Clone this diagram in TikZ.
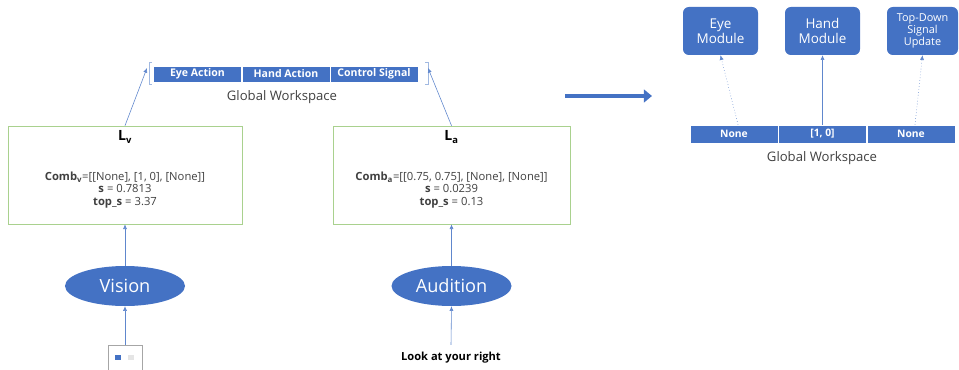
\documentclass[tikz,border=0pt]{standalone}
\usepackage{fontspec}
\setmainfont{Open Sans}
\usetikzlibrary{arrows.meta,shapes.geometric}

\definecolor{wsblue}{HTML}{4472C4}
\definecolor{boxgreen}{HTML}{A9D18E}
\definecolor{txtgrey}{HTML}{404040}

\tikzstyle{cell} = [fill=wsblue, draw=white, line width=0.6pt, text=white, font=\bfseries\fontsize{9}{11}\selectfont, minimum width=2.64cm, inner sep=0pt]
\tikzstyle{panel} = [draw=boxgreen, line width=0.6pt, minimum height=2.94cm, inner sep=0pt]
\tikzstyle{sense} = [ellipse, fill=wsblue, text=white, font=\fontsize{15.5}{18}\selectfont, minimum width=3.6cm, minimum height=1.2cm, inner sep=0pt]
\tikzstyle{module} = [rounded corners=5pt, fill=wsblue, text=white, align=center, minimum height=1.44cm, inner sep=1pt]
\tikzstyle{link} = [draw=wsblue!85, line width=0.5pt, -{Latex[length=4pt,width=3.5pt]}]

\begin{document}
\begin{tikzpicture}[x=0.03cm, y=-0.03cm]
\useasboundingbox (0,0) rectangle (959,370);
%begin workspace-left
\node[cell, minimum height=0.48cm] (ea) at (197.5,74) {Eye Action};
\node[cell, minimum height=0.48cm] (ha) at (286,74) {Hand Action};
\node[cell, minimum height=0.48cm] (cs) at (374,74) {Control Signal};
\draw[wsblue!50, line width=0.5pt] ([xshift=-0.03cm]ea.north west) ++(0.1,-3) -- ++(-3,0) -- ++(0,22) -- ++(3,0);
\draw[wsblue!50, line width=0.5pt] ([xshift=0.21cm]cs.north east) ++(-0.1,-3) -- ++(3,0) -- ++(0,22) -- ++(-3,0);
\coordinate (bl) at (147,68);
\coordinate (br) at (428,68);
\node[font=\fontsize{11.2}{13}\selectfont, text=txtgrey] (gwl) at (282,97) {Global Workspace};
%end workspace-left
%begin panel-v
\node[panel, minimum width=7.02cm] (lv) at (125,175) {};
\node[font=\bfseries\large] (lvt) at (125,137) {L\textsubscript{v}};
\node[font=\fontsize{9.6}{10.8}\selectfont, text=txtgrey, align=center] (lvs) at (125,190)
    {\textbf{Comb\textsubscript{v}}=[[None], [1, 0], [None]]\\ \textbf{s} = 0.7813\\ \textbf{top\_s} = 3.37};
%end panel-v
%begin panel-a
\node[panel, minimum width=7.11cm] (la) at (451.5,175) {};
\node[font=\bfseries\large] (lat) at (451.5,137) {L\textsubscript{a}};
\node[font=\fontsize{9.6}{10.8}\selectfont, text=txtgrey, align=center] (las) at (451.5,190)
    {\textbf{Comb\textsubscript{a}}=[[0.75, 0.75], [None], [None]]\\ \textbf{s} = 0.0239\\ \textbf{top\_s} = 0.13};
%end panel-a
%begin senses
\node[sense] (vis) at (125,286) {Vision};
\node[sense] (aud) at (451.5,286) {Audition};
\node[draw=gray!70, line width=0.5pt, minimum width=1.02cm, minimum height=0.81cm, inner sep=0pt] (img) at (125,359) {};
\node[fill=wsblue, minimum width=0.2cm, minimum height=0.15cm, inner sep=0pt] (pxa) at (118,357) {};
\node[fill=gray!20, minimum width=0.2cm, minimum height=0.15cm, inner sep=0pt] (pxb) at (131,357) {};
\node[font=\bfseries\fontsize{9.5}{11}\selectfont] (say) at (451,358) {Look at your right};
%end senses
%begin links-left
\draw[link] ([yshift=0.1cm]say.north) -- (aud.south);
\draw[link] (img.north) -- (vis.south);
\draw[link] (vis.north) -- (lv.south);
\draw[link] (aud.north) -- (la.south);
\draw[link] (lv.north) -- (bl);
\draw[link] (la.north) -- (br);
%end links-left
%begin big arrow
\coordinate (go) at (565,96);
\coordinate (to) at (652,96);
\draw[wsblue, line width=4pt, -{Triangle[length=7pt,width=11pt]}] (go) -- (to);
%end big arrow
%begin workspace-right
\node[cell, font=\bfseries\fontsize{8.8}{10}\selectfont, minimum height=0.54cm] (n1) at (734,134) {None};
\node[cell, font=\bfseries\fontsize{8.8}{10}\selectfont, minimum height=0.54cm] (n2) at (822.5,134) {[1, 0]};
\node[cell, font=\bfseries\fontsize{8.8}{10}\selectfont, minimum height=0.54cm] (n3) at (911,134) {None};
\node[font=\fontsize{11.2}{13}\selectfont, text=txtgrey] (gwr) at (822,158) {Global Workspace};
\node[module, minimum width=2.25cm, font=\fontsize{11.5}{12.5}\selectfont] (eye) at (720.5,31) {Eye\\Module};
\node[module, minimum width=2.25cm, font=\fontsize{11.5}{12.5}\selectfont] (hand) at (822.5,31) {Hand\\Module};
\node[module, minimum width=2.13cm, font=\fontsize{9.3}{10.6}\selectfont] (tds) at (922.5,31) {Top-Down\\Signal\\Update};
\draw[link, dotted] ([xshift=0.12cm]n1.north) -- (eye.south);
\draw[link] (n2.north) -- (hand.south);
\draw[link, dotted] ([xshift=0.12cm]n3.north) -- (tds.south);
%end workspace-right
\end{tikzpicture}
\end{document}
